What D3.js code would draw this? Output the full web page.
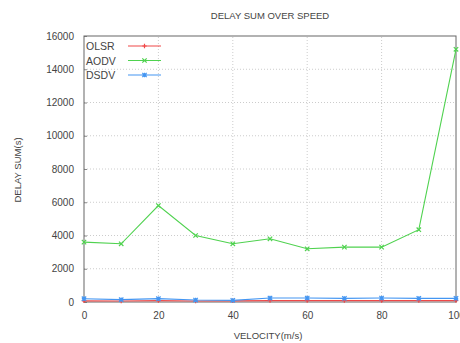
<!DOCTYPE html>
<html>
<head>
<meta charset="utf-8">
<script src="https://cdn.jsdelivr.net/npm/d3@7"></script>
<style>
  body { margin: 0; background: #fff; }
  text { font-family: "Liberation Sans", Arial, sans-serif; fill: #444; }
</style>
</head>
<body>
<div id="chart"></div>
<script>
// velocity values (m/s)
const velocity = [0, 10, 20, 30, 40, 50, 60, 70, 80, 90, 100];
const olsr = [70, 60, 80, 60, 70, 80, 80, 80, 80, 80, 80];
const aodv = [3600, 3500, 5800, 4000, 3500, 3800, 3200, 3300, 3300, 4350, 15200];
const dsdv = [200, 140, 200, 120, 100, 240, 240, 220, 240, 220, 220];
const xTicks = [0, 20, 40, 60, 80, 100];
const yTicks = [0, 2000, 4000, 6000, 8000, 10000, 12000, 14000, 16000];

const series = [
  { name: 'OLSR', values: olsr, color: '#f04848', marker: 'plus' },
  { name: 'AODV', values: aodv, color: '#4fd24f', marker: 'cross' },
  { name: 'DSDV', values: dsdv, color: '#4496f2', marker: 'star' }
];

const W = 460, H = 343;
const margin = { top: 36, right: 4, bottom: 41, left: 84 };

const svg = d3.select('#chart').append('svg')
  .attr('width', W).attr('height', H);

const x = d3.scaleLinear().domain([0, 100]).range([margin.left, W - margin.right]);
const y = d3.scaleLinear().domain([0, 16000]).range([H - margin.bottom, margin.top]);

// grid lines (dotted)
svg.append('g').selectAll('line.vg')
  .data(xTicks.slice(1, -1)).enter().append('line')
  .attr('x1', d => x(d)).attr('x2', d => x(d))
  .attr('y1', y(0)).attr('y2', y(16000))
  .attr('stroke', '#ccc').attr('stroke-dasharray', '1,2');
svg.append('g').selectAll('line.hg')
  .data(yTicks.slice(1, -1)).enter().append('line')
  .attr('x1', x(0)).attr('x2', x(100))
  .attr('y1', d => y(d)).attr('y2', d => y(d))
  .attr('stroke', '#ccc').attr('stroke-dasharray', '1,2');

// axes
const xAxis = svg.append('g')
  .attr('transform', `translate(0,${y(0)})`)
  .call(d3.axisBottom(x).tickValues(xTicks).tickSize(-3).tickPadding(10));
const yAxis = svg.append('g')
  .attr('transform', `translate(${x(0)},0)`)
  .call(d3.axisLeft(y).tickValues(yTicks).tickSize(-3).tickPadding(10).tickFormat(d3.format('d')));
[xAxis, yAxis].forEach(a => {
  a.select('.domain').remove();
  a.selectAll('line').attr('stroke', '#888');
  a.selectAll('text').attr('font-size', 10).attr('fill', '#666')
    .style('font-family', '"Liberation Sans", Arial, sans-serif');
});

// frame
svg.append('rect')
  .attr('x', x(0)).attr('y', y(16000))
  .attr('width', x(100) - x(0)).attr('height', y(0) - y(16000))
  .attr('fill', 'none').attr('stroke', '#666').attr('stroke-width', 1);

const line = d3.line()
  .x((d, i) => x(velocity[i]))
  .y(d => y(d));

function marker(g, type, color) {
  const s = 2.2;
  let p;
  if (type === 'plus') p = `M${-s},0H${s}M0,${-s}V${s}`;
  else if (type === 'cross') p = `M${-s},${-s}L${s},${s}M${-s},${s}L${s},${-s}`;
  else p = `M${-s},0H${s}M0,${-s}V${s}M${-s},${-s}L${s},${s}M${-s},${s}L${s},${-s}`;
  g.append('path').attr('d', p).attr('stroke', color).attr('stroke-width', 1.2).attr('fill', 'none');
}

series.forEach(s => {
  svg.append('path')
    .datum(s.values)
    .attr('d', line)
    .attr('fill', 'none')
    .attr('stroke', s.color)
    .attr('stroke-width', 1.1);
  svg.append('g').selectAll('g')
    .data(s.values).enter().append('g')
    .attr('transform', (d, i) => `translate(${x(velocity[i])},${y(d)})`)
    .each(function () { marker(d3.select(this), s.marker, s.color); });
});

// legend
const legend = svg.append('g');
series.forEach((s, i) => {
  const ly = 46 + i * 14.5;
  legend.append('text')
    .attr('x', 86).attr('y', ly + 4)
    .attr('font-size', 10.5).attr('fill', '#666')
    .text(s.name);
  legend.append('line')
    .attr('x1', 128).attr('x2', 161)
    .attr('y1', ly).attr('y2', ly)
    .attr('stroke', s.color).attr('stroke-width', 1.1);
  const m = legend.append('g').attr('transform', `translate(144.5,${ly})`);
  marker(m, s.marker, s.color);
});

// titles
svg.append('text')
  .attr('x', 270).attr('y', 19)
  .attr('text-anchor', 'middle')
  .attr('font-size', 9.5).attr('fill', '#555')
  .text('DELAY SUM OVER SPEED');
svg.append('text')
  .attr('x', 268).attr('y', 339)
  .attr('text-anchor', 'middle')
  .attr('font-size', 9.5).attr('fill', '#555')
  .text('VELOCITY(m/s)');
svg.append('text')
  .attr('transform', 'translate(21,170) rotate(-90)')
  .attr('text-anchor', 'middle')
  .attr('font-size', 9.5).attr('fill', '#555')
  .text('DELAY SUM(s)');
</script>
</body>
</html>
